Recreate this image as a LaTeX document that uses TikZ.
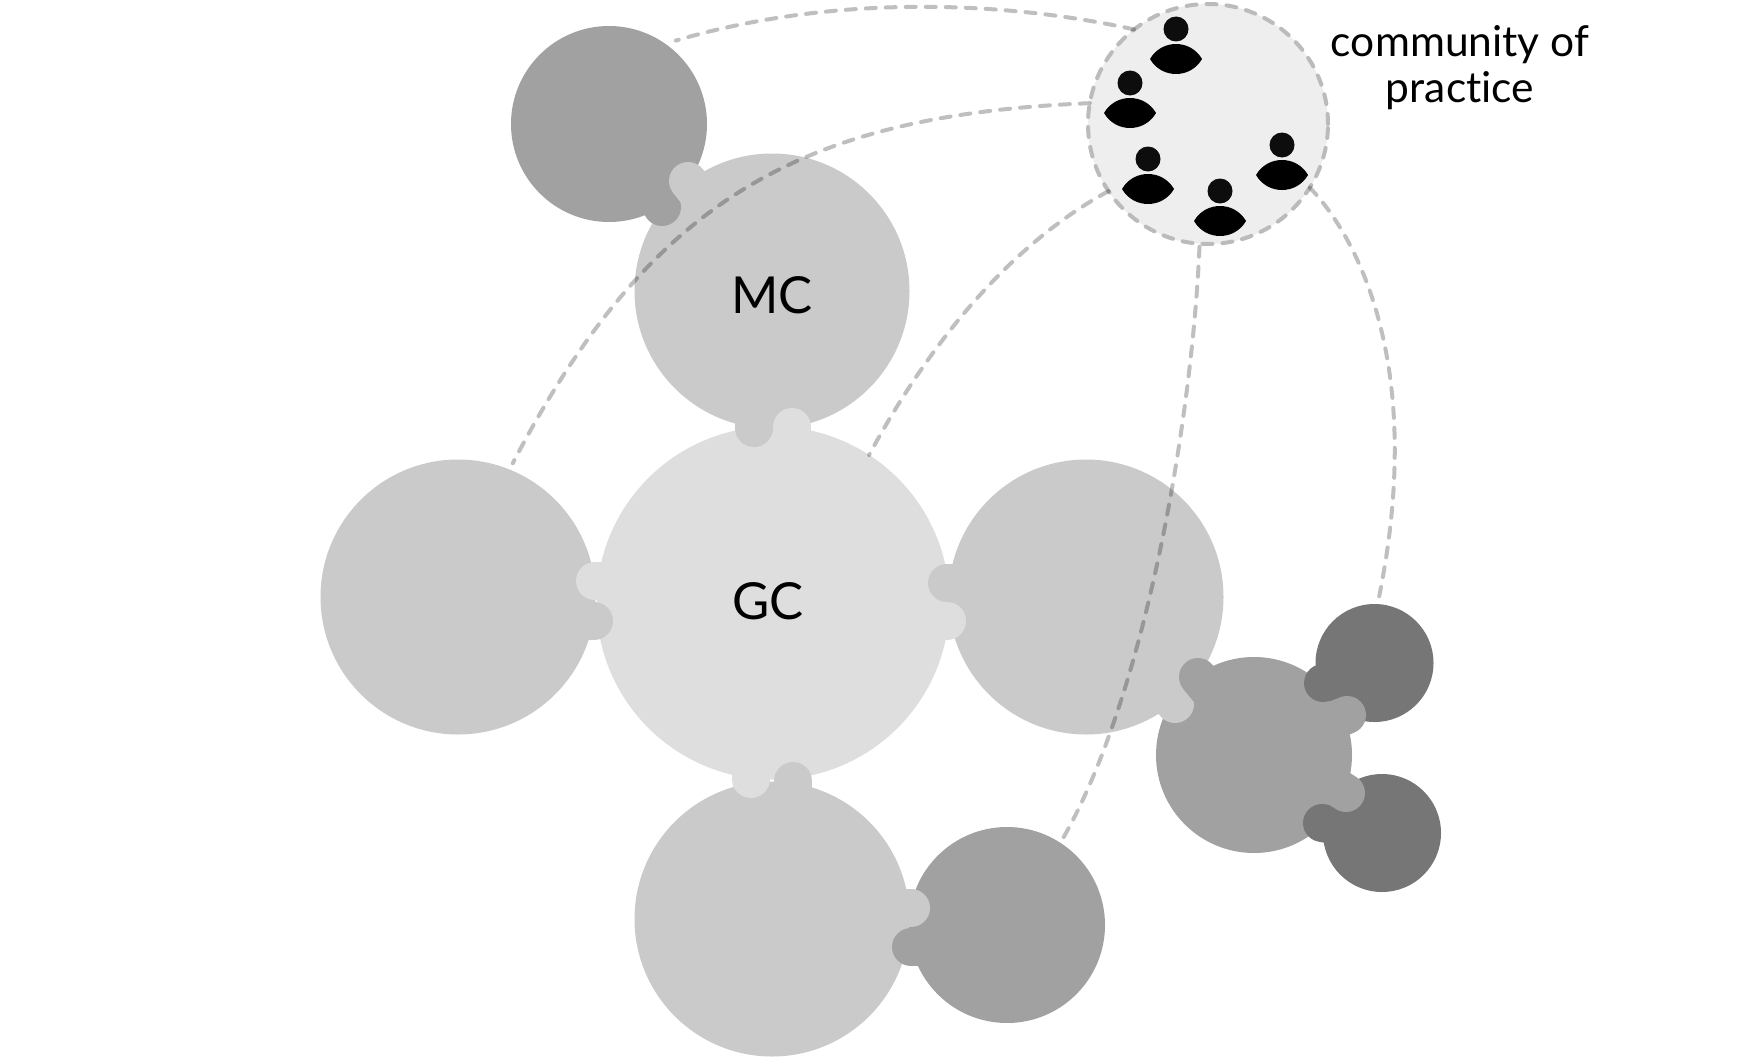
\documentclass[tikz,border=0pt]{standalone}
\usepackage{fontspec}
\setmainfont[Ligatures=NoCommon]{Lato}
\definecolor{cDark}{HTML}{767676}
\definecolor{cMid}{HTML}{A1A1A1}
\definecolor{cLight}{HTML}{CACACA}
\definecolor{cPale}{HTML}{DEDEDE}
\definecolor{cComm}{HTML}{EEEEEE}
\definecolor{cDash}{HTML}{BBBBBB}
\tikzset{
  disc/.style={circle,inner sep=0pt,outer sep=0pt,minimum size=#1},
  big/.style={disc=275pt},
  med/.style={disc=196pt},
  small/.style={disc=118pt},
  bump/.style={line width=38pt,line cap=round},
  link/.style={black,opacity=.25,line width=4pt,line cap=round,dash pattern=on 10pt off 10pt},
  bigtext/.style={font=\fontsize{51}{51}\selectfont,inner sep=0pt},
  person/.pic={
    \fill[black!95] (0,-30) circle[radius=12.5];
    \fill[black] (-26,0) .. controls (-14.5,-20) and (14.5,-20) .. (26,0)
                         .. controls (14.5,20) and (-14.5,20) .. (-26,0) -- cycle;
  }
}
\begin{document}
\begin{tikzpicture}[x=1pt,y=-1pt]
\useasboundingbox (0,0) rectangle (1748,1057);
% circles
\node[big,fill=cLight] (mc) at (772,291) {};
\node[med,fill=cMid] (tl) at (609,124) {};
\node[big,fill=cLight] (left) at (458,597) {};
\node[big,fill=cLight] (right) at (1086,597) {};
\node[big,fill=cLight] (bottom) at (772,919) {};
\node[disc=353pt,fill=cPale] (gc) at (773,603) {};
\node[med,fill=cMid] (br) at (1007,925) {};
\node[med,fill=cMid] (mid) at (1254,755) {};
\node[small,fill=cDark] (dup) at (1374.5,663) {};
\node[small,fill=cDark] (dlow) at (1382,833) {};
% bumps
\draw[bump,cMid] (662,207) -- (640,170);
\draw[bump,cLight] (688,181) -- (715,215);
\draw[bump,cLight] (754,428) -- (754,390);
\draw[bump,cPale] (792,427) -- (792,470);
\draw[bump,cPale] (595,581) -- (640,581);
\draw[bump,cLight] (594,621) -- (550,621);
\draw[bump,cLight] (947,583) -- (990,583);
\draw[bump,cPale] (947,621) -- (905,621);
\draw[bump,cPale] (751,779) -- (751,740);
\draw[bump,cLight] (793,781) -- (793,820);
\draw[bump,cLight] (911,908) -- (870,908);
\draw[bump,cMid] (911,947) -- (950,947);
\draw[bump,cLight] (1175,704) -- (1150,670);
\draw[bump,cMid] (1198,677) -- (1225,710);
\draw[bump,cDark] (1323,683) -- (1360,670);
\draw[bump,cMid] (1347,715) -- (1310,730);
\draw[bump,cDark] (1322,823) -- (1360,830);
\draw[bump,cMid] (1346,793) -- (1310,770);
% community
\node[disc=240pt,fill=cComm,draw=cDash,line width=4pt,line cap=round,dash pattern=on 10pt off 10pt] (comm) at (1208,124) {};
\pic at (1176,59) {person};
\pic at (1130,113) {person};
\pic at (1148,189) {person};
\pic at (1220,221) {person};
\pic at (1282,175) {person};
% connectors
\draw[link,shorten >=11pt] (comm.128) .. controls (1000,0) and (830,-5) .. (tl.55);
\draw[link,shorten >=7pt] (comm.170) .. controls (800,115) and (650,200) .. (left.68);
\draw[link] (comm.214) .. controls (1000,250) and (920,360) .. (gc.57);
\draw[link,shorten <=3pt,shorten >=-1pt] (comm.266) .. controls (1192,420) and (1145,700) .. (br.57);
\draw[link,shorten >=8pt] (comm.328) .. controls (1360,240) and (1425,370) .. (dup.87);
% text
\node[bigtext] (mclabel) at (772,295) {MC};
\node[bigtext] (gclabel) at (768,601) {GC};
\node[font=\fontsize{42.5}{46}\selectfont,align=center,inner sep=0pt] (commlabel) at (1460,68) {community of\\practice};
\end{tikzpicture}
\end{document}
